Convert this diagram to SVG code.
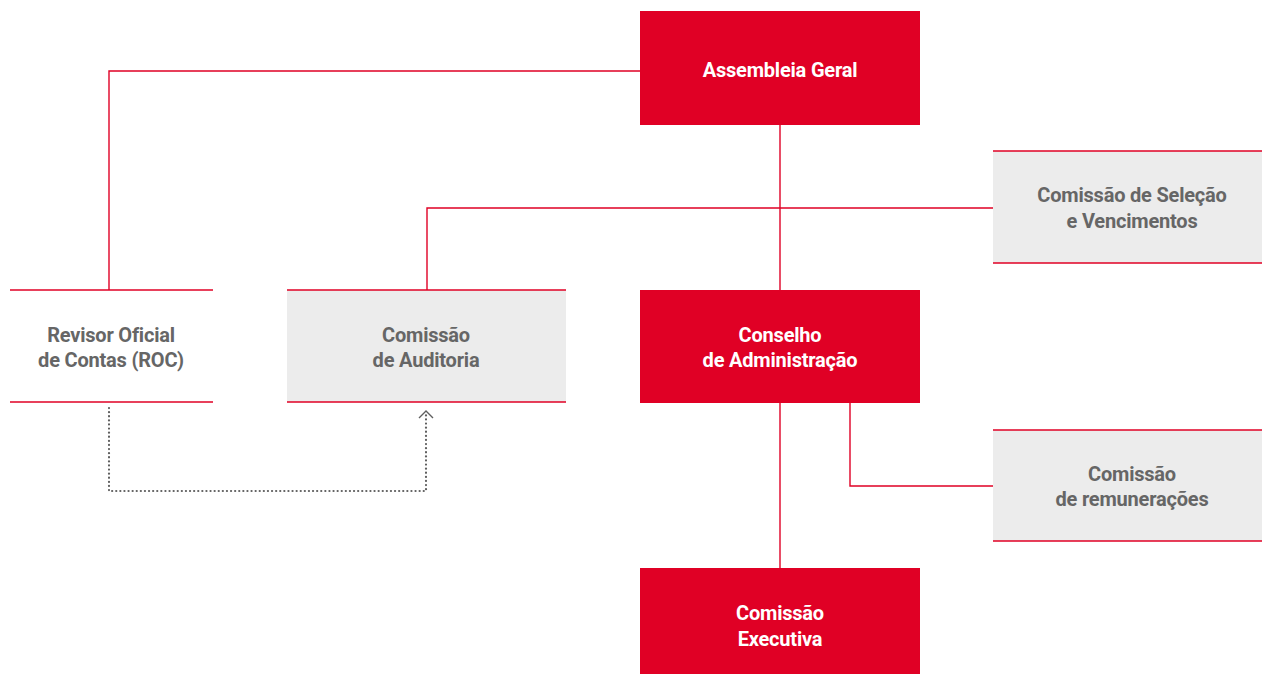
<svg xmlns="http://www.w3.org/2000/svg" width="1262" height="674" viewBox="0 0 1262 674">
<style>
.red{fill:#e00025}
.gray{fill:#ececec}
.edge{stroke:#e00025;stroke-width:1.4;fill:none}
.lbl{font-family:Roboto,"Liberation Sans",sans-serif;font-weight:700;font-size:20px;text-anchor:middle;letter-spacing:-0.2px}
.w{fill:#ffffff}
.g{fill:#666666}
.dot{stroke:#5f5f5f;stroke-width:2.2;fill:none;stroke-dasharray:0.1 4;stroke-linecap:round}
</style>
<rect width="1262" height="674" fill="#ffffff"/>
<g id="connectors">
<path class="edge" d="M640 71 H109 V290"/>
<path class="edge" d="M780 125 V290"/>
<path class="edge" d="M993 208 H427 V290"/>
<path class="edge" d="M780 402 V568"/>
<path class="edge" d="M850 402 V486 H993"/>
<path class="dot" d="M109 408 V491 H426 V414"/>
<path d="M419 418 L426 411 L433 418" fill="none" stroke="#5f5f5f" stroke-width="1.4"/>
</g>
<g id="assembleia">
<rect class="red" x="640" y="11" width="280" height="114"/>
<text class="lbl w" x="780" y="77">Assembleia Geral</text>
</g>
<g id="selecao">
<rect class="gray" x="993" y="151" width="269" height="112"/>
<line class="edge" x1="993" y1="151" x2="1262" y2="151"/>
<line class="edge" x1="993" y1="263" x2="1262" y2="263"/>
<text class="lbl g" x="1132" y="202">Comissão de Seleção</text>
<text class="lbl g" x="1132" y="228">e Vencimentos</text>
</g>
<g id="roc">
<line class="edge" x1="10" y1="290" x2="213" y2="290"/>
<line class="edge" x1="10" y1="402" x2="213" y2="402"/>
<text class="lbl g" x="111" y="342">Revisor Oficial</text>
<text class="lbl g" x="111" y="367">de Contas (ROC)</text>
</g>
<g id="auditoria">
<rect class="gray" x="287" y="290" width="279" height="112"/>
<line class="edge" x1="287" y1="290" x2="566" y2="290"/>
<line class="edge" x1="287" y1="402" x2="566" y2="402"/>
<text class="lbl g" x="426" y="342">Comissão</text>
<text class="lbl g" x="426" y="367">de Auditoria</text>
</g>
<g id="conselho">
<rect class="red" x="640" y="290" width="280" height="113"/>
<text class="lbl w" x="780" y="342">Conselho</text>
<text class="lbl w" x="780" y="367">de Administração</text>
</g>
<g id="remuneracoes">
<rect class="gray" x="993" y="430" width="269" height="111"/>
<line class="edge" x1="993" y1="430" x2="1262" y2="430"/>
<line class="edge" x1="993" y1="541" x2="1262" y2="541"/>
<text class="lbl g" x="1132" y="481">Comissão</text>
<text class="lbl g" x="1132" y="506">de remunerações</text>
</g>
<g id="executiva">
<rect class="red" x="640" y="568" width="280" height="106"/>
<text class="lbl w" x="780" y="620">Comissão</text>
<text class="lbl w" x="780" y="646">Executiva</text>
</g>
</svg>
